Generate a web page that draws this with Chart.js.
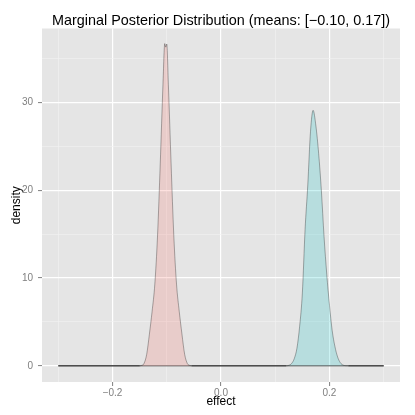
<!DOCTYPE html>
<html><head><meta charset="utf-8">
<script src="https://cdn.jsdelivr.net/npm/chart.js@4.4.1/dist/chart.umd.min.js"></script>
<style>html,body{margin:0;padding:0;background:#fff;}#wrap{width:415px;height:415px;}</style>
</head><body><div id="wrap"><canvas id="c" width="415" height="415"></canvas></div>
<script>
const chartTitle = "Marginal Posterior Distribution (means: [\u22120.10, 0.17])";
const xAxisTitle = "effect";
const yAxisTitle = "density";
const xMajorTicks = [-0.2, 0.0, 0.2];
const xMinorTicks = [-0.3, -0.1, 0.1, 0.3];
const yMajorTicks = [0, 10, 20, 30];
const yMinorTicks = [5, 15, 25, 35];

// series 1 (red): effect values and density
const redX = [-0.3, -0.15, -0.147, -0.142, -0.137, -0.132, -0.127, -0.122, -0.117, -0.112, -0.107, -0.1037, -0.102, -0.1000, -0.097, -0.092, -0.087, -0.082, -0.077, -0.072, -0.067, -0.062, -0.057, -0.054, 0.3];
const redY = [0, 0, 0.03, 0.25, 1.3, 3.6, 6.2, 9.3, 14.8, 23.0, 32.0, 36.7, 36.3, 36.65, 32.0, 23.0, 14.8, 9.3, 6.2, 3.6, 1.3, 0.25, 0.03, 0, 0];
// series 2 (teal)
const tealX = [-0.3, 0.12, 0.125, 0.13, 0.135, 0.14, 0.145, 0.15, 0.155, 0.16, 0.165, 0.1698, 0.175, 0.18, 0.185, 0.19, 0.195, 0.2, 0.205, 0.21, 0.215, 0.22, 0.225, 0.23, 0.235, 0.3];
const tealY = [0, 0, 0.05, 0.25, 0.8, 2.0, 4.5, 8.3, 15.5, 20.6, 26.7, 29.1, 27.3, 24.2, 20.0, 14.7, 10.4, 6.9, 4.0, 2.2, 1.0, 0.35, 0.08, 0.01, 0, 0];

const FONT = '"Liberation Sans", Arial, Helvetica, sans-serif';
const fmtX = v => { const s = Math.abs(v).toFixed(1); return (v < -1e-9 ? '\u2212' : '') + s; };
const isMajor = (v, arr) => arr.some(m => Math.abs(m - v) < 1e-9);

const bgPlugin = {
  id: 'ggbg',
  beforeDraw(chart) {
    const {ctx, chartArea: a} = chart;
    ctx.save();
    ctx.fillStyle = '#ffffff';
    ctx.fillRect(0, 0, chart.width, chart.height);
    ctx.fillStyle = '#E5E5E5';
    ctx.fillRect(a.left, a.top, a.right - a.left, a.bottom - a.top);
    ctx.restore();
  },
  afterDraw(chart) {
    const {ctx, chartArea: a} = chart;
    ctx.save();
    ctx.font = '14.4px ' + FONT;
    ctx.fillStyle = '#000';
    ctx.textAlign = 'center';
    ctx.textBaseline = 'alphabetic';
    ctx.fillText(chartTitle, (a.left + a.right) / 2, 24.5);
    ctx.restore();
  }
};

function gridOpts(majors) {
  return {
    color: c => isMajor(c.tick.value, majors) ? '#FFFFFF' : '#F2F2F2',
    lineWidth: c => isMajor(c.tick.value, majors) ? 1.2 : 0.6,
    drawTicks: true,
    tickLength: 4,
    tickColor: c => isMajor(c.tick.value, majors) ? '#7F7F7F' : 'rgba(0,0,0,0)',
    tickWidth: 1
  };
}

const baseSeg = {
  borderColor: c => (c.p0.parsed.y === 0 && c.p1.parsed.y === 0) ? 'rgba(0,0,0,0.45)' : undefined,
  borderWidth: c => (c.p0.parsed.y === 0 && c.p1.parsed.y === 0) ? 1.4 : undefined
};

new Chart(document.getElementById('c'), {
  type: 'line',
  data: {
    datasets: [
      {
        data: redX.map((x, i) => ({x, y: redY[i]})),
        fill: 'origin',
        backgroundColor: 'rgba(248,118,109,0.22)',
        borderColor: 'rgba(0,0,0,0.3)',
        borderWidth: 1,
        pointRadius: 0,
        cubicInterpolationMode: 'monotone',
        segment: baseSeg
      },
      {
        data: tealX.map((x, i) => ({x, y: tealY[i]})),
        fill: 'origin',
        backgroundColor: 'rgba(0,191,196,0.2)',
        borderColor: 'rgba(0,0,0,0.3)',
        borderWidth: 1,
        pointRadius: 0,
        cubicInterpolationMode: 'monotone',
        segment: baseSeg
      }
    ]
  },
  options: {
    responsive: false,
    animation: false,
    devicePixelRatio: 1,
    layout: {padding: {top: 28.5, right: 15, left: 0, bottom: 0}},
    plugins: {legend: {display: false}, tooltip: {enabled: false}, title: {display: false}},
    scales: {
      x: {
        type: 'linear', position: 'bottom', min: -0.33, max: 0.33,
        border: {display: false},
        grid: gridOpts(xMajorTicks),
        afterBuildTicks: s => { s.ticks = xMinorTicks.concat(xMajorTicks).sort((a, b) => a - b).map(v => ({value: v})); },
        afterFit: s => { s.height = 33; },
        ticks: {
          color: '#7F7F7F', font: {family: FONT, size: 10}, padding: 1,
          autoSkip: false, maxRotation: 0, includeBounds: false,
          callback: v => isMajor(v, xMajorTicks) ? fmtX(v) : ''
        },
        title: {display: true, text: xAxisTitle, color: '#000', font: {family: FONT, size: 12}, padding: {top: 0, bottom: 6}}
      },
      y: {
        type: 'linear', position: 'left', min: -1.85, max: 38.42,
        border: {display: false},
        grid: gridOpts(yMajorTicks),
        afterBuildTicks: s => { s.ticks = yMinorTicks.concat(yMajorTicks).sort((a, b) => a - b).map(v => ({value: v})); },
        afterFit: s => { s.width = 42; },
        ticks: {
          color: '#7F7F7F', font: {family: FONT, size: 10}, padding: 5,
          autoSkip: false, includeBounds: false,
          callback: v => isMajor(v, yMajorTicks) ? String(v) : ''
        },
        title: {display: true, text: yAxisTitle, color: '#000', font: {family: FONT, size: 12}, padding: {top: 9, bottom: 0}}
      }
    }
  },
  plugins: [bgPlugin]
});
</script>
</body></html>
